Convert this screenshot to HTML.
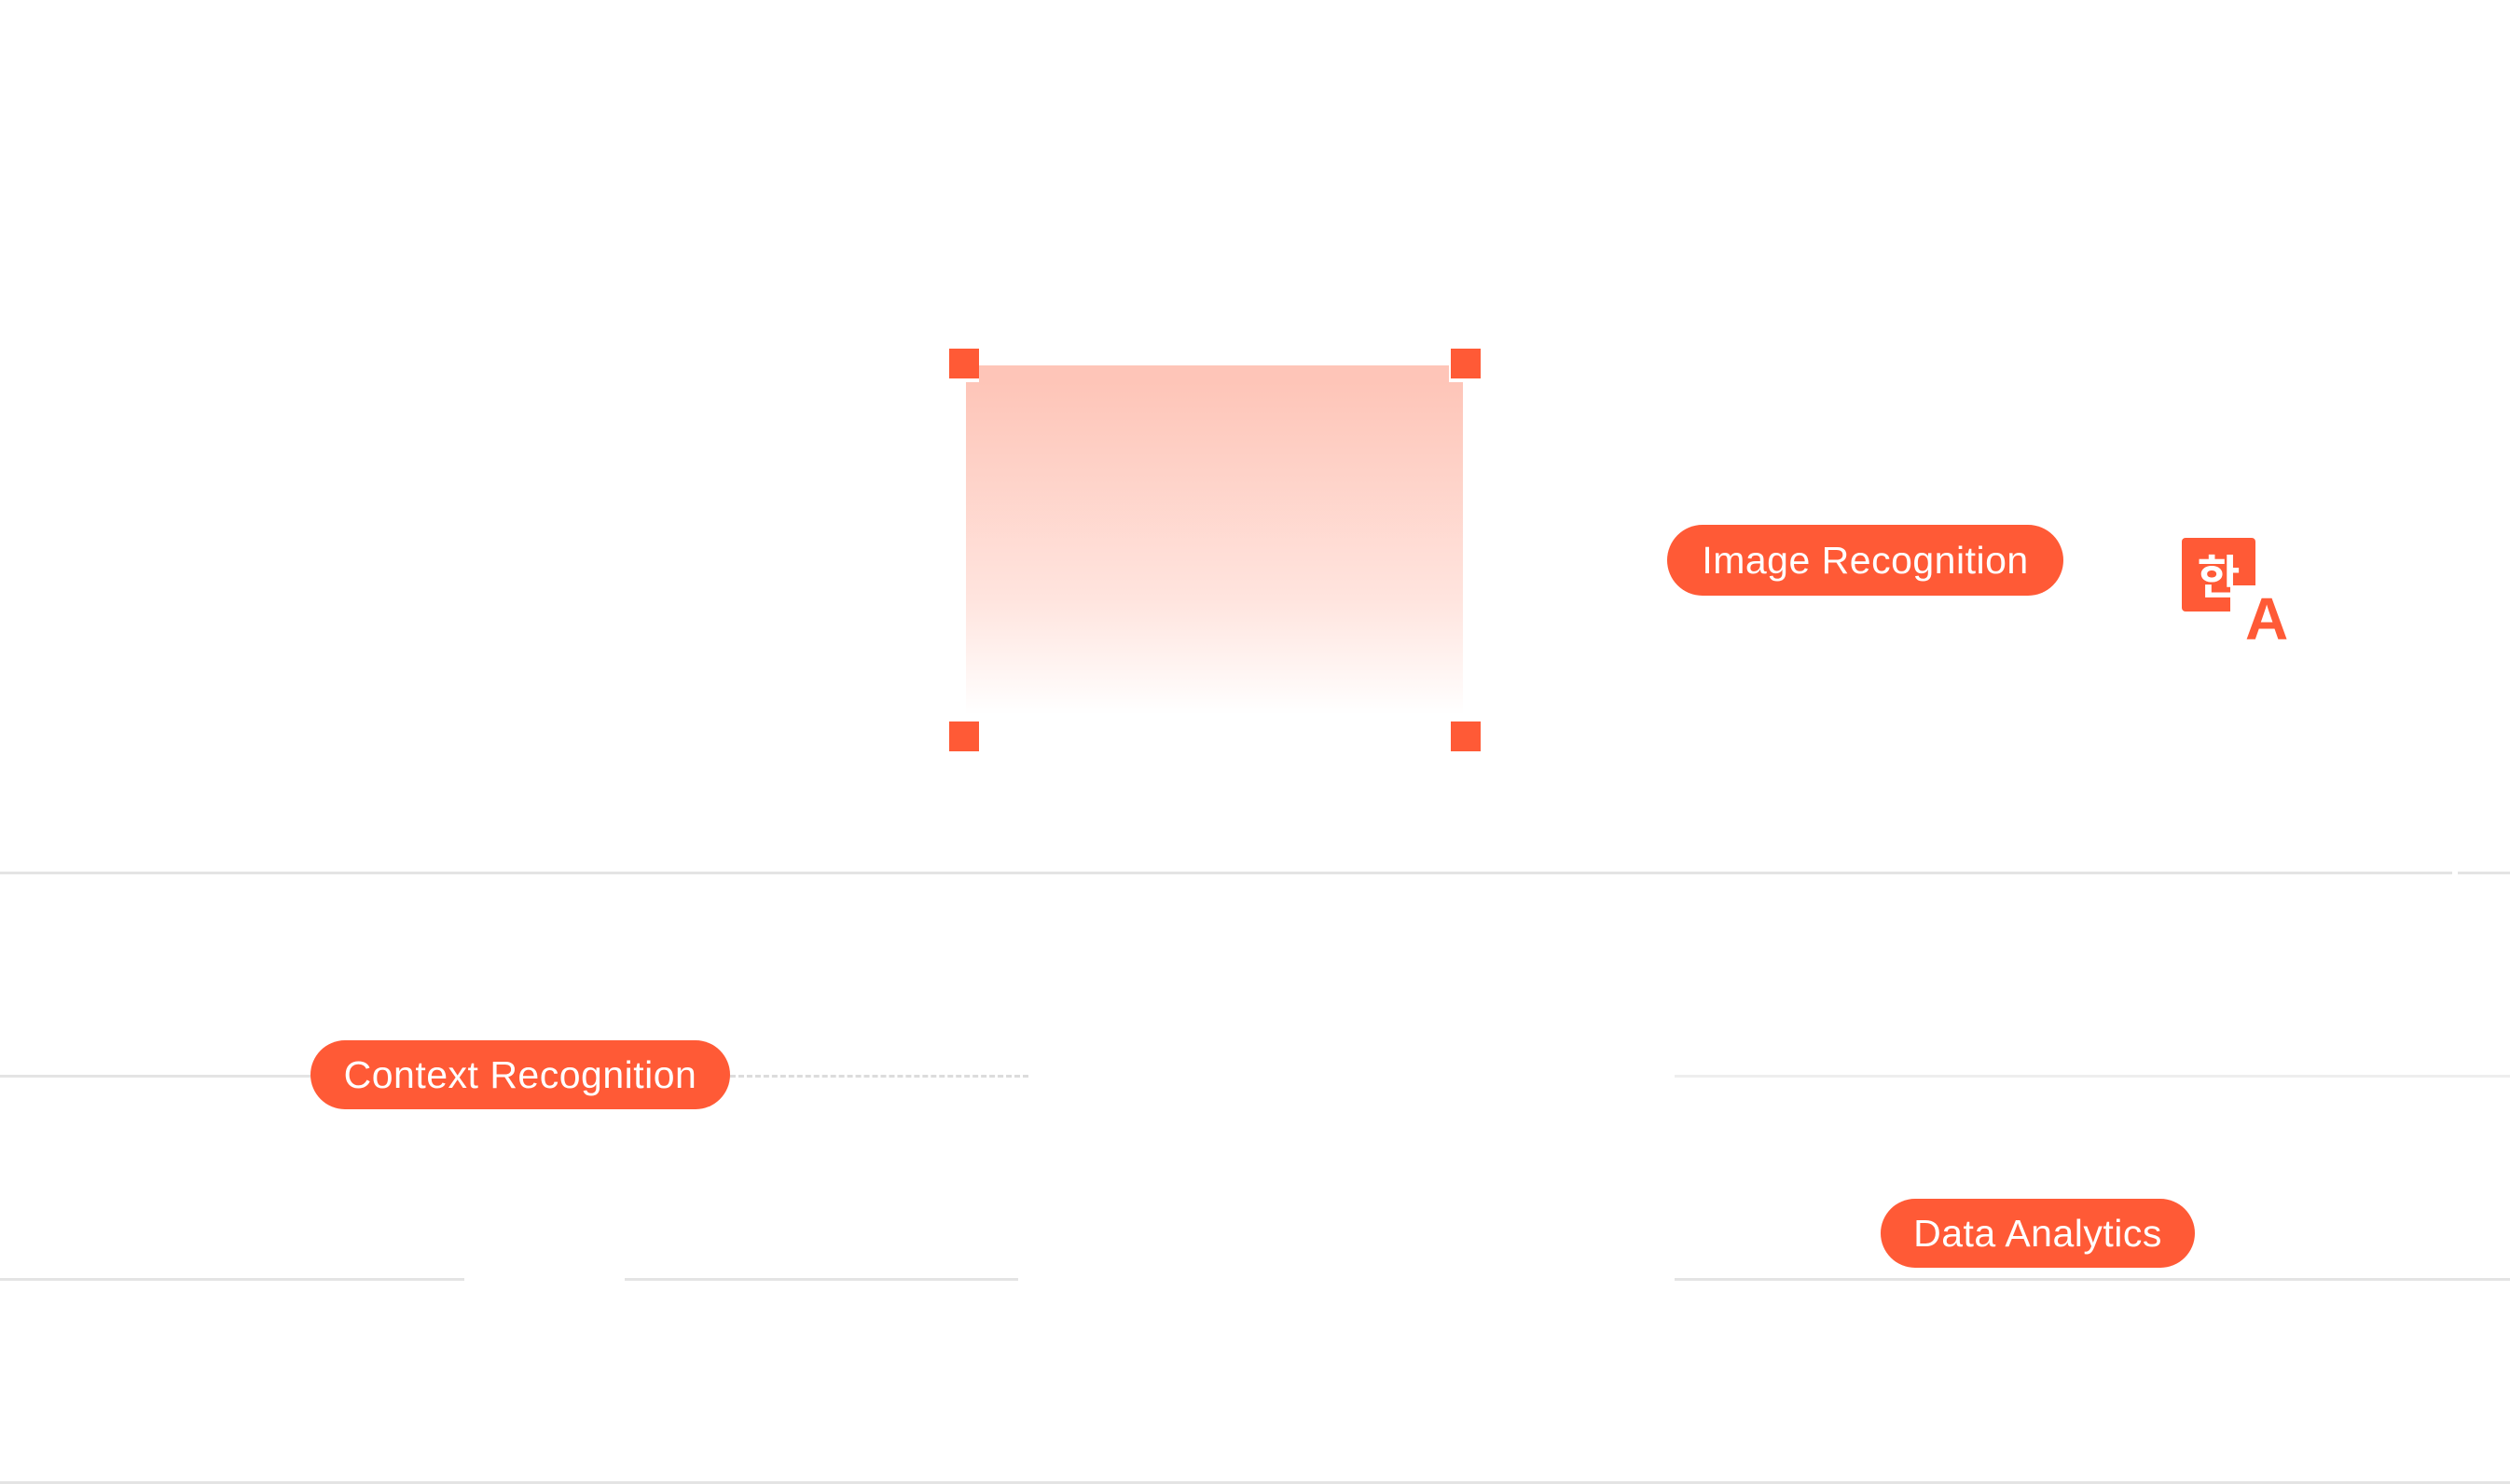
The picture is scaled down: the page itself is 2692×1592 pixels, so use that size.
<!DOCTYPE html>
<html><head><meta charset="utf-8"><style>
html,body{margin:0;padding:0;background:#fff;}
body{width:2692px;height:1592px;position:relative;overflow:hidden;font-family:"Liberation Sans","Noto Sans CJK KR",sans-serif;}
.l{position:absolute;height:3px;background:#e4e4e4;}
.sq{position:absolute;width:32px;height:32px;background:#ff5a36;}
.pill{position:absolute;background:#ff5a36;color:#fff;border-radius:40px;display:flex;align-items:center;justify-content:center;font-size:41px;letter-spacing:0.5px;}
</style></head><body>
<div class="l" style="left:0;top:935px;width:2630px"></div>
<div class="l" style="left:2636px;top:935px;width:56px"></div>
<div class="l" style="left:0;top:1153px;width:333px"></div>
<div class="l" style="left:1796px;top:1153px;width:896px;background:#eeeeee"></div>
<div class="l" style="left:0;top:1371px;width:498px"></div>
<div class="l" style="left:670px;top:1371px;width:422px"></div>
<div class="l" style="left:1796px;top:1371px;width:896px"></div>
<div class="l" style="left:0;top:1589px;width:2692px"></div>
<div style="position:absolute;left:783px;top:1153px;width:320px;height:0;border-top:3px dashed #dcdcdc"></div>

<div style="position:absolute;left:1050px;top:392px;width:504px;height:18px;background:#fec5b8"></div>
<div style="position:absolute;left:1036px;top:410px;width:533px;height:357px;background:linear-gradient(#fec5b8,#ffe4de 65%,#fff)"></div>
<div class="sq" style="left:1018px;top:374px"></div>
<div class="sq" style="left:1556px;top:374px"></div>
<div class="sq" style="left:1018px;top:774px"></div>
<div class="sq" style="left:1556px;top:774px"></div>

<div class="pill" style="left:1788px;top:563px;width:425px;height:76px">Image Recognition</div>
<div class="pill" style="left:333px;top:1116px;width:450px;height:74px">Context Recognition</div>
<div class="pill" style="left:2017px;top:1286px;width:337px;height:74px">Data Analytics</div>

<div style="position:absolute;left:2340px;top:577px;width:79px;height:79px;background:#ff5a36;border-radius:4px;color:#fff;font-size:50px;font-weight:bold;line-height:79px;text-align:center;font-family:'Noto Sans CJK KR',sans-serif">한</div>
<div style="position:absolute;left:2392px;top:628px;width:66px;height:70px;background:#fff"></div>
<div style="position:absolute;left:2408px;top:632px;font-size:64px;font-weight:bold;color:#ff5a36;line-height:64px">A</div>
</body></html>
